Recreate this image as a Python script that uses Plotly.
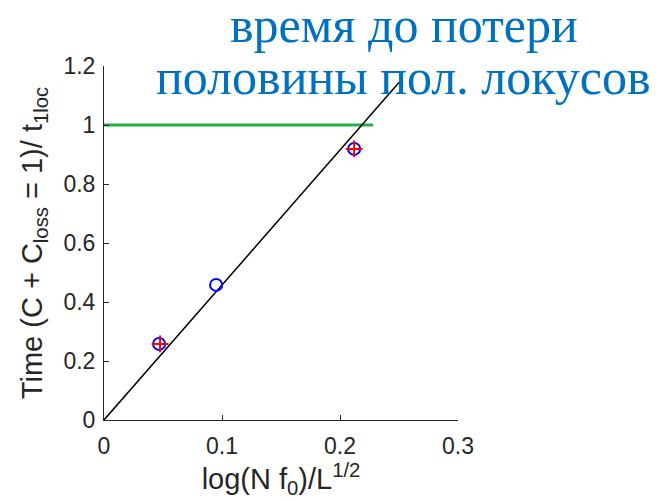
import plotly.graph_objects as go

circle_x = [0.0467, 0.095, 0.212]
circle_y = [0.258, 0.458, 0.919]
plus_x = [0.0475, 0.212]
plus_y = [0.258, 0.919]
fit_x = [0.0, 0.25]
fit_y = [0.0, 1.144]
ref_x = [0.0, 0.228]
ref_y = [1.0, 1.0]
x_ticks = [0, 0.1, 0.2, 0.3]
y_ticks = [0, 0.2, 0.4, 0.6, 0.8, 1, 1.2]
title_lines = ["время до потери", "половины пол. локусов"]

fig = go.Figure()
fig.add_trace(go.Scatter(x=ref_x, y=ref_y, mode="lines",
                         line=dict(color="#1fb04e", width=3), showlegend=False))
fig.add_trace(go.Scatter(x=fit_x, y=fit_y, mode="lines",
                         line=dict(color="black", width=1.5), showlegend=False))
fig.add_trace(go.Scatter(x=circle_x, y=circle_y, mode="markers",
                         marker=dict(symbol="circle-open", size=12, color="#0000ff",
                                     line=dict(width=2, color="#0000ff")),
                         showlegend=False))
fig.add_trace(go.Scatter(x=plus_x, y=plus_y, mode="markers",
                         marker=dict(symbol="cross-thin-open", size=12, color="#ff0000",
                                     line=dict(width=2, color="#ff0000")),
                         showlegend=False))

tick_font = dict(family="Liberation Sans, Arial, sans-serif", size=23, color="#262626")
label_font = dict(family="Liberation Sans, Arial, sans-serif", size=29, color="#262626")
title_font = dict(family="Liberation Serif, serif", size=50, color="#0070c0")

for txt, yy in zip(title_lines, [1.115, 0.968]):
    fig.add_annotation(text=txt, xref="paper", yref="paper", x=0.847, y=yy,
                       xanchor="center", yanchor="middle", showarrow=False,
                       font=title_font)

fig.update_layout(
    width=653, height=494,
    margin=dict(l=96, r=203, t=58, b=82),
    plot_bgcolor="white", paper_bgcolor="white",
    xaxis=dict(range=[0, 0.3], tickvals=x_ticks, ticktext=["0", "0.1", "0.2", "0.3"],
               showgrid=False, zeroline=False, showline=True, linecolor="#262626",
               linewidth=1, ticks="inside", ticklen=5, tickcolor="#262626",
               tickfont=tick_font, ticklabelstandoff=5,
               title=dict(text="log(N f<sub>0</sub>)/L<sup>1/2</sup>", font=label_font, standoff=2)),
    yaxis=dict(range=[0, 1.2], tickvals=y_ticks,
               ticktext=["0", "0.2", "0.4", "0.6", "0.8", "1", "1.2"],
               showgrid=False, zeroline=False, showline=True, linecolor="#262626",
               linewidth=1, ticks="inside", ticklen=5, tickcolor="#262626",
               tickfont=tick_font, ticklabelstandoff=3,
               title=dict(text="Time (C + C<sub>loss</sub> = 1)/ t<sub>1loc</sub>",
                          font=label_font, standoff=12)),
)
fig.write_html("out.html")
